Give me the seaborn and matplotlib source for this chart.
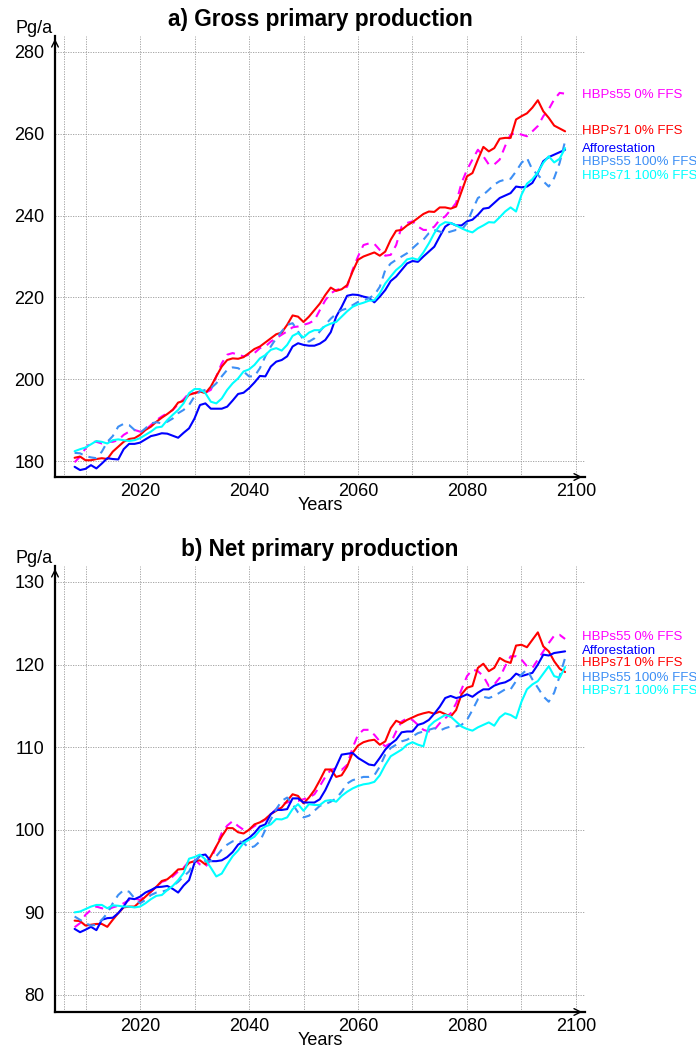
#%% import tools and libraries
import pandas as pd
import seaborn as sb
import matplotlib.pyplot as plt
import matplotlib.ticker as mticker


#%% data (yearly values 2008-2098)
years = list(range(2008, 2099))
scen = ['HBPs55 0% FFS', 'HBPs71 0% FFS', 'Afforestation', 'HBPs55 100% FFS', 'HBPs71 100% FFS']

# a) gross primary production, Pg/a
gpp_h55_0 = [179.7, 181.1, 183.1, 184.7, 184.7, 184.3, 184.7, 184.7, 185.1, 186.4,
             187.2, 187.6, 187.2, 187.6, 188.8, 190.0, 190.9, 191.7, 192.5, 193.9,
             195.1, 196.6, 196.6, 197.0, 196.7, 197.4, 200.7, 203.9, 206.0, 206.4,
             206.0, 205.6, 206.0, 206.4, 207.6, 208.0, 209.2, 210.0, 210.9, 211.7,
             212.7, 212.9, 213.3, 213.7, 214.4, 216.9, 219.3, 221.0, 221.8, 222.2,
             222.6, 226.7, 230.0, 232.8, 233.2, 233.1, 231.6, 230.2, 230.4, 232.8,
             237.3, 238.2, 238.6, 237.3, 236.5, 236.5, 237.3, 239.0, 239.8, 241.4,
             243.1, 248.0, 251.2, 253.7, 256.1, 254.5, 252.5, 252.5, 253.7, 257.0,
             259.8, 260.2, 259.8, 259.4, 260.6, 261.9, 264.3, 266.0, 268.4, 270.0,
             269.8]
gpp_h71_0 = [180.8, 181.1, 180.2, 180.2, 180.5, 180.7, 180.5, 182.3, 183.5, 184.7,
             185.4, 185.6, 186.4, 187.6, 188.4, 189.6, 190.6, 191.5, 192.5, 194.3,
             194.7, 196.2, 196.6, 197.0, 196.6, 198.2, 200.7, 203.1, 204.7, 205.1,
             205.0, 205.4, 206.4, 207.4, 208.0, 209.0, 210.0, 211.0, 211.4, 213.3,
             215.6, 215.3, 214.0, 215.3, 216.9, 218.5, 220.6, 222.4, 221.6, 222.0,
             223.0, 226.3, 229.2, 230.0, 230.5, 231.0, 230.2, 231.2, 234.1, 236.3,
             236.5, 237.6, 238.4, 239.4, 240.4, 241.0, 240.9, 242.0, 242.0, 241.7,
             242.2, 245.9, 249.6, 250.4, 253.7, 256.8, 255.7, 256.5, 258.8, 259.0,
             259.0, 263.5, 264.3, 265.0, 266.4, 268.2, 265.5, 263.9, 262.0, 261.3,
             260.6]
gpp_aff = [178.6, 177.8, 178.1, 179.0, 178.2, 179.4, 180.7, 180.5, 180.4, 182.9,
           184.2, 184.2, 184.5, 185.3, 186.1, 186.4, 186.8, 186.7, 186.2, 185.7,
           186.9, 188.0, 190.4, 193.7, 194.1, 192.8, 192.8, 192.8, 193.3, 194.8,
           196.4, 196.7, 197.8, 199.2, 200.8, 200.7, 203.1, 204.3, 204.7, 205.6,
           208.0, 208.8, 208.4, 208.2, 208.2, 208.7, 209.6, 211.5, 215.3, 217.7,
           220.4, 220.7, 220.6, 220.2, 219.9, 218.8, 220.2, 221.8, 224.0, 225.1,
           226.7, 228.3, 228.9, 228.7, 230.0, 231.2, 232.4, 234.9, 237.3, 238.2,
           237.6, 237.6, 238.6, 239.0, 240.2, 241.7, 241.9, 243.1, 244.3, 244.9,
           245.5, 247.1, 246.9, 247.1, 248.0, 250.4, 253.3, 254.3, 254.9, 255.5,
           256.1]
gpp_h55_100 = [182.0, 181.9, 181.2, 180.9, 180.7, 182.3, 184.7, 186.1, 188.4, 189.1,
               188.8, 187.6, 186.9, 188.0, 189.2, 189.5, 189.2, 189.6, 190.4, 191.7,
               192.5, 193.7, 195.8, 197.0, 197.4, 197.8, 199.0, 200.7, 202.3, 202.9,
               202.7, 201.9, 200.7, 200.7, 202.7, 205.6, 208.0, 210.0, 211.7, 213.3,
               213.7, 211.7, 209.6, 209.2, 210.0, 211.7, 213.3, 214.8, 216.0, 216.9,
               217.3, 218.1, 218.9, 219.3, 219.8, 220.6, 222.6, 226.7, 228.3, 229.2,
               230.0, 230.8, 232.0, 233.2, 234.1, 235.7, 236.5, 236.1, 235.7, 236.1,
               236.5, 236.5, 238.2, 241.4, 244.3, 245.1, 246.3, 247.6, 248.4, 248.8,
               249.0, 250.8, 252.9, 254.1, 251.2, 250.0, 248.4, 247.1, 249.2, 252.9,
               258.2]
gpp_h71_100 = [182.4, 182.9, 183.3, 184.1, 184.9, 184.7, 184.3, 185.1, 185.3, 185.1,
               184.9, 185.1, 185.6, 186.4, 187.2, 188.2, 188.4, 190.0, 191.3, 192.5,
               194.1, 196.6, 197.6, 197.6, 196.6, 194.5, 194.1, 195.3, 197.4, 199.0,
               200.2, 201.9, 202.4, 203.5, 205.1, 205.9, 207.2, 207.6, 207.0, 208.4,
               210.6, 211.3, 210.2, 211.4, 212.0, 212.0, 213.0, 213.6, 214.0, 215.3,
               216.6, 217.7, 218.3, 218.7, 219.2, 219.3, 221.0, 223.4, 225.1, 226.7,
               227.8, 229.3, 229.6, 229.2, 231.0, 233.2, 235.7, 237.6, 238.4, 238.2,
               237.6, 236.9, 236.3, 235.9, 236.9, 237.6, 238.4, 238.3, 239.6, 241.0,
               242.0, 241.0, 245.1, 247.8, 248.9, 250.6, 252.9, 254.5, 253.0, 253.9,
               256.5]

# b) net primary production, Pg/a
npp_h55_0 = [88.2, 88.7, 89.7, 90.3, 90.7, 90.5, 90.3, 90.6, 90.8, 91.1,
             91.5, 91.7, 91.5, 92.0, 92.5, 93.1, 93.7, 93.9, 94.35, 94.95,
             95.4, 96.2, 96.4, 95.8, 95.5, 96.4, 98.0, 99.6, 100.5, 101.05,
             100.45, 100.0, 100.0, 100.45, 100.85, 101.25, 101.9, 102.5, 103.1, 103.3,
             103.5, 103.5, 103.7, 103.9, 104.3, 105.3, 106.4, 107.25, 107.45, 107.25,
             107.85, 109.9, 111.5, 112.1, 112.1, 111.5, 110.7, 110.1, 110.5, 111.9,
             113.1, 113.5, 113.3, 112.7, 112.1, 111.9, 112.1, 112.9, 113.5, 114.1,
             115.3, 117.0, 118.6, 119.4, 119.2, 118.6, 117.4, 117.6, 118.4, 119.8,
             121.0, 121.0, 120.6, 119.8, 119.6, 120.6, 121.6, 122.6, 123.5, 123.6,
             123.1]
npp_h71_0 = [89.0, 88.95, 88.4, 88.5, 88.6, 88.6, 88.25, 89.1, 89.9, 90.6,
             90.7, 90.7, 91.3, 91.9, 92.5, 93.1, 93.8, 94.0, 94.55, 95.2,
             95.25, 96.0, 96.2, 96.3, 95.8, 96.8, 98.0, 99.2, 100.2, 100.2,
             99.7, 99.55, 100.0, 100.65, 100.9, 101.3, 101.9, 102.3, 102.7, 103.5,
             104.3, 104.1, 103.2, 103.9, 104.8, 106.0, 107.3, 107.3, 106.4, 106.6,
             107.65, 109.3, 110.2, 110.6, 110.8, 110.9, 110.3, 110.7, 112.3, 113.2,
             112.9, 113.3, 113.6, 113.9, 114.1, 114.25, 114.05, 114.3, 114.0, 113.7,
             114.5, 116.4, 117.2, 117.4, 119.6, 120.1, 119.2, 119.6, 120.8, 120.4,
             120.2, 122.3, 122.4, 122.1, 123.0, 123.9, 122.2, 121.6, 120.4, 119.5,
             119.1]
npp_aff = [88.0, 87.6, 87.9, 88.25, 87.85, 89.1, 89.3, 89.35, 89.9, 90.7,
           91.7, 91.6, 91.9, 92.4, 92.7, 93.05, 93.1, 93.2, 92.85, 92.4,
           93.25, 93.9, 96.0, 96.9, 97.0, 96.2, 96.2, 96.3, 96.7, 97.3,
           98.2, 98.6, 99.0, 99.6, 100.4, 100.65, 101.9, 102.4, 102.4, 102.5,
           103.8, 103.8, 103.3, 103.3, 103.3, 103.7, 104.8, 106.2, 107.65, 109.1,
           109.2, 109.3, 108.7, 108.3, 107.9, 107.8, 108.7, 109.7, 110.4, 110.9,
           111.8, 111.9, 111.9, 112.7, 112.9, 113.3, 114.05, 114.9, 115.95, 116.2,
           115.95, 116.1, 116.4, 116.1, 116.6, 117.0, 117.0, 117.45, 117.7, 117.85,
           118.2, 118.9, 118.6, 118.8, 119.0, 120.0, 121.2, 121.1, 121.4, 121.5,
           121.6]
npp_h55_100 = [89.5, 89.1, 88.7, 88.4, 88.5, 89.1, 89.9, 91.1, 92.1, 92.7,
               92.5, 91.7, 91.1, 91.5, 92.1, 92.4, 92.5, 92.7, 93.2, 93.7,
               94.35, 94.95, 96.2, 96.8, 96.2, 96.2, 96.8, 97.6, 98.2, 98.6,
               98.7, 98.4, 97.8, 98.0, 98.6, 100.0, 101.25, 102.5, 103.5, 103.9,
               103.1, 102.1, 101.5, 101.7, 102.3, 102.9, 103.1, 103.4, 103.8, 104.6,
               105.6, 106.0, 106.2, 106.4, 106.4, 106.6, 107.65, 109.1, 109.9, 110.3,
               110.7, 110.9, 111.3, 111.7, 111.9, 112.1, 112.3, 112.0, 112.3, 112.5,
               112.5, 112.7, 113.3, 114.5, 115.8, 116.1, 115.95, 116.2, 116.6, 117.0,
               117.0, 118.0, 118.8, 119.4, 118.2, 117.2, 116.15, 115.5, 116.6, 118.6,
               120.8]
npp_h71_100 = [90.0, 90.1, 90.4, 90.7, 90.9, 90.9, 90.5, 90.85, 90.8, 90.7,
               90.7, 90.6, 90.7, 91.1, 91.6, 92.0, 92.1, 92.7, 93.2, 93.9,
               94.75, 96.5, 96.7, 97.0, 96.4, 95.4, 94.35, 94.7, 95.8, 96.8,
               97.5, 98.4, 98.8, 99.15, 99.95, 100.4, 100.65, 101.3, 101.25, 101.5,
               102.5, 103.1, 102.3, 103.1, 103.0, 103.0, 103.5, 103.6, 103.4, 104.1,
               104.6, 105.0, 105.3, 105.5, 105.6, 105.8, 106.6, 107.85, 108.9, 109.3,
               109.7, 110.3, 110.6, 110.3, 110.1, 112.5, 113.1, 113.5, 113.9, 113.7,
               113.1, 112.5, 112.2, 112.0, 112.4, 112.7, 113.0, 112.6, 113.6, 114.1,
               113.9, 113.5, 115.5, 117.0, 117.6, 118.0, 118.9, 119.8, 118.6, 118.4,
               119.7]

# label order at the right edge and label heights (data units)
order_a = ['HBPs55 0% FFS', 'HBPs71 0% FFS', 'Afforestation', 'HBPs55 100% FFS', 'HBPs71 100% FFS']
label_y_a = [269.5, 260.7, 256.3, 253.1, 249.7]
order_b = ['HBPs55 0% FFS', 'Afforestation', 'HBPs71 0% FFS', 'HBPs55 100% FFS', 'HBPs71 100% FFS']
label_y_b = [123.3, 121.6, 120.2, 118.4, 116.8]


#%% styles
colors = {'HBPs55 0% FFS': '#ff00ff', 'HBPs71 0% FFS': '#ff0000', 'Afforestation': '#0000ff',
          'HBPs55 100% FFS': '#3d8ff5', 'HBPs71 100% FFS': '#00ffff'}
dashes = {'HBPs55 0% FFS': (4, 3), 'HBPs71 0% FFS': '', 'Afforestation': '',
          'HBPs55 100% FFS': (4, 3), 'HBPs71 100% FFS': ''}

sb.set_style('white')
plt.rcParams['font.family'] = ['Liberation Sans', 'DejaVu Sans']
plt.rcParams['text.color'] = 'black'
plt.rcParams['axes.labelcolor'] = 'black'


def make_df(series):
    frames = []
    for s, vals in zip(scen, series):
        frames.append(pd.DataFrame({'Year': years, 'val': vals, 'scen': s}))
    return pd.concat(frames, ignore_index=True)


def style_axis(ax, ylim, ymaj, ymin):
    ax.set_xlim(2004.4, 2101.65)
    ax.set_ylim(*ylim)
    ax.set_xticks([2020, 2040, 2060, 2080, 2100])
    ax.set_xticks([2006, 2010, 2030, 2050, 2070, 2090], minor=True)
    ax.yaxis.set_major_locator(mticker.MultipleLocator(ymaj))
    ax.yaxis.set_minor_locator(mticker.MultipleLocator(ymin))
    ax.grid(which='both', axis='x', color='0.6', lw=0.6, linestyle=(0, (1.5, 1.5)))
    ax.grid(which='major', axis='y', color='0.6', lw=0.6, linestyle=(0, (1.5, 1.5)))
    ax.set_axisbelow(True)
    ax.set_xlabel('')
    ax.set_ylabel('')
    for side in ['top', 'right']:
        ax.spines[side].set_visible(False)
    for side in ['left', 'bottom']:
        ax.spines[side].set_linewidth(1.6)
        ax.spines[side].set_color('black')
    ax.tick_params(which='both', direction='out', length=3, width=1, colors='black', labelsize=13)
    ax.tick_params(axis='x', which='both', pad=1.5)
    ax.tick_params(axis='y', which='both', pad=4.5)
    # arrow heads at the end of the axes
    ax.annotate('', xy=(0, 1), xytext=(0, 0.97), xycoords='axes fraction',
                arrowprops=dict(arrowstyle='->', lw=1, color='black', mutation_scale=12))
    ax.annotate('', xy=(1, 0), xytext=(0.97, 0), xycoords='axes fraction',
                arrowprops=dict(arrowstyle='->', lw=1, color='black', mutation_scale=12))
    ax.text(-0.004, 1.007, 'Pg/a', transform=ax.transAxes, ha='right', va='baseline', fontsize=13)
    ax.annotate('Years', xy=(0.5, 0), xycoords='axes fraction', xytext=(0, -23.5),
                textcoords='offset points', ha='center', va='baseline', fontsize=13)


def label_lines(ax, order, ypos):
    for s, y in zip(order, ypos):
        ax.text(2101.1, y, s, color=colors[s], fontsize=9.5, ha='left', va='center', clip_on=False)


#%% plot
fig = plt.figure(figsize=(6.96, 10.5), dpi=100)
ax1 = fig.add_axes([0.079, 0.5457, 0.7615, 0.42])
ax2 = fig.add_axes([0.079, 0.0362, 0.7615, 0.4248])

gpp = make_df([gpp_h55_0, gpp_h71_0, gpp_aff, gpp_h55_100, gpp_h71_100])
npp = make_df([npp_h55_0, npp_h71_0, npp_aff, npp_h55_100, npp_h71_100])

for ax, df in [(ax1, gpp), (ax2, npp)]:
    sb.lineplot(data=df, x='Year', y='val', hue='scen', style='scen', hue_order=scen,
                style_order=scen, palette=colors, dashes=dashes, lw=1.5, legend=False, ax=ax)

style_axis(ax1, (176.1, 283.9), 20, 5)
style_axis(ax2, (77.94, 131.94), 10, 2.5)
label_lines(ax1, order_a, label_y_a)
label_lines(ax2, order_b, label_y_b)

ax1.set_title('a) Gross primary production', fontsize=16.3, fontweight='bold', pad=7.2, color='black')
ax2.set_title('b) Net primary production', fontsize=16.3, fontweight='bold', pad=7.2, color='black')

plt.savefig('out.png', dpi=100)
